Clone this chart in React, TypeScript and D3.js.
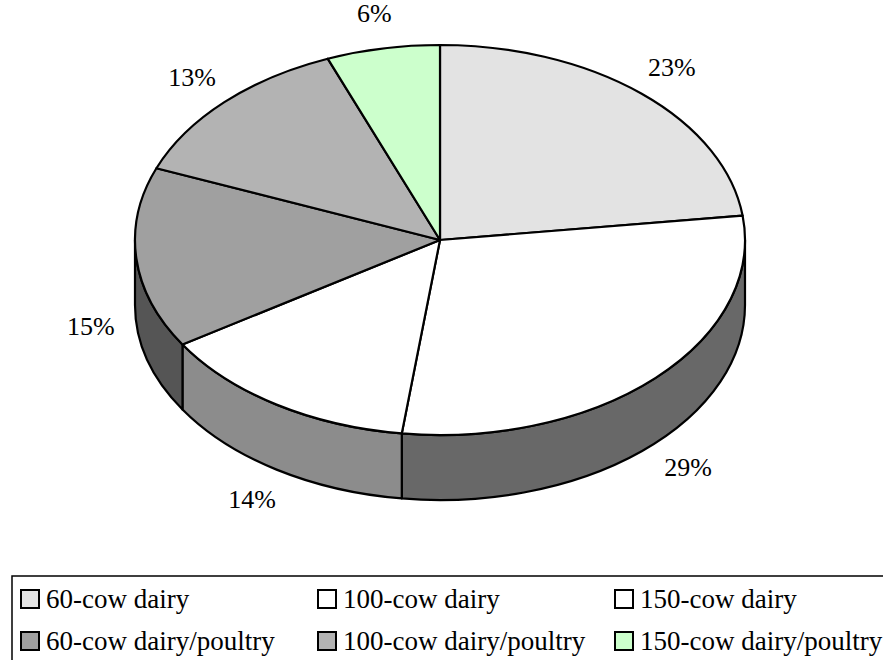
import React from 'react';
import * as d3 from 'd3';

const categories = [
  '60-cow dairy',
  '100-cow dairy',
  '150-cow dairy',
  '60-cow dairy/poultry',
  '100-cow dairy/poultry',
  '150-cow dairy/poultry',
];
const shares = [23, 29, 14, 15, 13, 6];
const shareLabels = ['23%', '29%', '14%', '15%', '13%', '6%'];
const topColors = ['#e3e3e3', '#ffffff', '#ffffff', '#a0a0a0', '#b3b3b3', '#ccffcc'];
const sideColors = ['#a8a8a8', '#686868', '#8c8c8c', '#555555', '#7a7a7a', '#99cc99'];

const W = 883;
const H = 660;
const CX = 440;
const CY = 240;
const RX = 305;
const RY = 195;
const DEPTH = 65;
const FONT = "'Liberation Serif', 'Times New Roman', 'DejaVu Serif', serif";

const pt = (a: number, dy = 0): [number, number] => [CX + RX * Math.sin(a), CY - RY * Math.cos(a) + dy];

export default function App() {
  const pie = d3.pie<number>().sort(null).value((d) => d);
  const arcs = pie(shares);

  const topPath = (a0: number, a1: number) => {
    const p0 = pt(a0);
    const p1 = pt(a1);
    const large = a1 - a0 > Math.PI ? 1 : 0;
    return `M${CX},${CY}L${p0[0]},${p0[1]}A${RX},${RY} 0 ${large} 1 ${p1[0]},${p1[1]}Z`;
  };

  const sidePath = (a0: number, a1: number) => {
    const s = Math.max(a0, Math.PI / 2);
    const e = Math.min(a1, (3 * Math.PI) / 2);
    if (e <= s) return null;
    const t0 = pt(s);
    const t1 = pt(e);
    const b0 = pt(s, DEPTH);
    const b1 = pt(e, DEPTH);
    return `M${t0[0]},${t0[1]}A${RX},${RY} 0 0 1 ${t1[0]},${t1[1]}L${b1[0]},${b1[1]}A${RX},${RY} 0 0 0 ${b0[0]},${b0[1]}Z`;
  };

  const legendX = [21, 318, 615];
  const legendY = [599, 641];
  const textStyle = { fontFamily: FONT };

  return (
    <svg width={W} height={H} style={{ position: 'absolute', left: 0, top: 0, background: '#fff' }}>
      {arcs.map((a, i) => {
        const d = sidePath(a.startAngle, a.endAngle);
        return d ? (
          <path key={'s' + i} d={d} fill={sideColors[i]} stroke="#000" strokeWidth={2.2} strokeLinejoin="round" />
        ) : null;
      })}
      {arcs.map((a, i) => (
        <path key={'t' + i} d={topPath(a.startAngle, a.endAngle)} fill={topColors[i]} stroke="#000" strokeWidth={2.2} strokeLinejoin="round" />
      ))}
      {arcs.map((a, i) => {
        const m = (a.startAngle + a.endAngle) / 2;
        const front = -Math.cos(m) > 0;
        const x = CX + RX * 1.15 * Math.sin(m);
        const y = CY - RY * 1.18 * Math.cos(m) + (front ? DEPTH : 0);
        return (
          <text key={'l' + i} x={x} y={y} textAnchor="middle" dominantBaseline="central" style={textStyle} fontSize={26} fill="#000">
            {shareLabels[i]}
          </text>
        );
      })}
      <rect x={12} y={576} width={W + 20} height={120} fill="none" stroke="#000" strokeWidth={1.5} />
      {categories.map((c, i) => {
        const col = i % 3;
        const row = Math.floor(i / 3);
        const x = legendX[col];
        const y = legendY[row];
        return (
          <g key={'g' + i}>
            <rect x={x} y={y - 9} width={18} height={18} fill={topColors[i]} stroke="#000" strokeWidth={2} />
            <text x={x + 25} y={y} dominantBaseline="central" style={textStyle} fontSize={27} fill="#000">
              {c}
            </text>
          </g>
        );
      })}
    </svg>
  );
}
